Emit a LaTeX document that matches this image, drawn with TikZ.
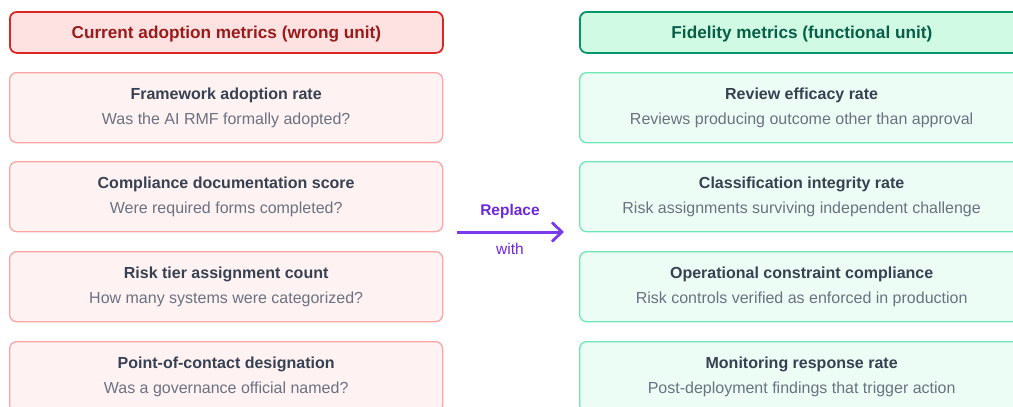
\documentclass[tikz,border=0pt]{standalone}
\usepackage{fontspec}
\setmainfont{Liberation Sans}
\usetikzlibrary{arrows.meta}
\definecolor{redhdfill}{HTML}{FEE2E2}
\definecolor{redhdline}{HTML}{DC2626}
\definecolor{redhdtext}{HTML}{991B1B}
\definecolor{redbxfill}{HTML}{FEF2F2}
\definecolor{redbxline}{HTML}{FCA5A5}
\definecolor{grnhdfill}{HTML}{D1FAE5}
\definecolor{grnhdline}{HTML}{059669}
\definecolor{grnhdtext}{HTML}{065F46}
\definecolor{grnbxfill}{HTML}{ECFDF5}
\definecolor{grnbxline}{HTML}{6EE7B7}
\definecolor{titletext}{HTML}{374151}
\definecolor{subtext}{HTML}{6B7280}
\definecolor{violetarrow}{HTML}{7C3AED}
\definecolor{violettext}{HTML}{6D28D9}
\tikzset{
  x=1pt, y=-1pt,
  colbox/.style={rounded corners=7pt, minimum height=70pt, inner sep=0pt, anchor=north west},
  headtext/.style={font=\fontsize{17.2}{20}\selectfont\bfseries, text depth=1pt},
  redhead/.style={colbox, headtext, draw=redhdline, fill=redhdfill, line width=1.8pt, minimum width=433pt, minimum height=41pt,
    text=redhdtext},
  grnhead/.style={colbox, headtext, draw=grnhdline, fill=grnhdfill, line width=1.8pt, minimum width=444pt, minimum height=41pt,
    text=grnhdtext},
  redbox/.style={colbox, draw=redbxline, fill=redbxfill, line width=1.3pt, minimum width=433pt, align=center},
  grnbox/.style={colbox, draw=grnbxline, fill=grnbxfill, line width=1.3pt, minimum width=444pt, align=center},
}
\newcommand{\metric}[2]{%
  \textcolor{titletext}{\fontsize{16}{19}\selectfont\bfseries #1}\\[9pt]%
  \textcolor{subtext}{\fontsize{16}{19}\selectfont #2}}
\begin{document}
\begin{tikzpicture}
\useasboundingbox (0,0) rectangle (1013,407);
\begin{scope}
\clip (0,0) rectangle (1013,407);
% left column: current adoption metrics
\node[redhead] (lh) at (9,11) {Current adoption metrics (wrong unit)};
\node[redbox] (l1) at (9,72)  {\metric{Framework adoption rate}{Was the AI RMF formally adopted?}};
\node[redbox] (l2) at (9,161) {\metric{Compliance documentation score}{Were required forms completed?}};
\node[redbox] (l3) at (9,251) {\metric{Risk tier assignment count}{How many systems were categorized?}};
\node[redbox] (l4) at (9,341) {\metric{Point-of-contact designation}{Was a governance official named?}};
% right column: fidelity metrics
\node[grnhead] (rh) at (579,11) {Fidelity metrics (functional unit)};
\node[grnbox] (r1) at (579,72)  {\metric{Review efficacy rate}{Reviews producing outcome other than approval}};
\node[grnbox] (r2) at (579,161) {\metric{Classification integrity rate}{Risk assignments surviving independent challenge}};
\node[grnbox] (r3) at (579,251) {\metric{Operational constraint compliance}{Risk controls verified as enforced in production}};
\node[grnbox] (r4) at (579,341) {\metric{Monitoring response rate}{Post-deployment findings that trigger action}};
\end{scope}
% replacement arrow between the columns
\coordinate (as) at (457,232);
\coordinate (ae) at (564,232);
\draw[violetarrow, line width=3pt, -{Straight Barb[length=10pt,width=19pt,line width=2.8pt]}] (as) -- (ae);
\node[text=violettext, font=\fontsize{15.5}{18}\selectfont\bfseries] (rep) at (510,211) {Replace};
\node[text=violettext, font=\fontsize{15.5}{18}\selectfont] (with) at (510,249) {with};
\end{tikzpicture}
\end{document}
